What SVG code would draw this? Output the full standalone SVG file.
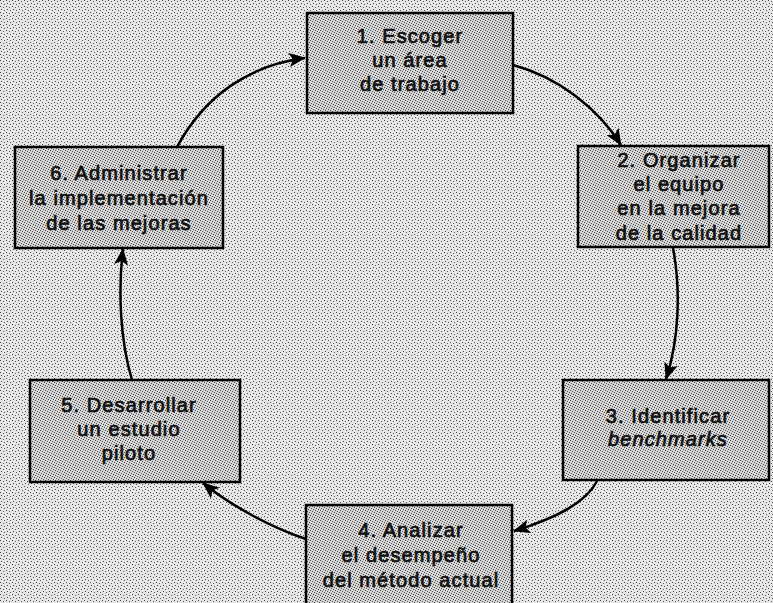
<svg xmlns="http://www.w3.org/2000/svg" width="773" height="603" viewBox="0 0 773 603">
  <defs>
    <pattern id="bgdots" width="6" height="6" patternUnits="userSpaceOnUse">
      <rect width="6" height="6" fill="#e6e6e6"/>
      <rect x="0" y="0" width="1" height="1" fill="#444"/>
      <rect x="3" y="1" width="1" height="1" fill="#555"/>
      <rect x="1" y="3" width="1" height="1" fill="#444"/>
      <rect x="4" y="4" width="1" height="1" fill="#555"/>
    </pattern>
    <pattern id="boxdots" width="5" height="5" patternUnits="userSpaceOnUse">
      <rect width="5" height="5" fill="#d6d6d6"/>
      <rect x="0" y="0" width="1" height="1" fill="#444"/>
      <rect x="2" y="1" width="1" height="1" fill="#555"/>
      <rect x="4" y="2" width="1" height="1" fill="#444"/>
      <rect x="1" y="3" width="1" height="1" fill="#555"/>
      <rect x="3" y="4" width="1" height="1" fill="#444"/>
    </pattern>
    <marker id="arrow" markerWidth="18" markerHeight="14" refX="16" refY="7" orient="auto" markerUnits="userSpaceOnUse">
      <path d="M0,0 L17,7 L0,14 L4,7 z" fill="#000"/>
    </marker>
  </defs>
  <style>
    .box { fill: url(#boxdots); stroke: #000; stroke-width: 2.5; }
    .lbl { font-family: "Liberation Sans", Arial, sans-serif; font-size: 20px; letter-spacing: 1.1px; fill: #111; stroke: #111; stroke-width: 0.7; text-anchor: middle; }
    .conn { fill: none; stroke: #000; stroke-width: 2.5; marker-end: url(#arrow); }
  </style>
  <rect width="773" height="603" fill="url(#bgdots)"/>

  <g id="node1">
    <rect class="box" x="307" y="13" width="206" height="100"/>
    <text class="lbl" x="410" y="43">1. Escoger</text>
    <text class="lbl" x="410" y="67">un área</text>
    <text class="lbl" x="410" y="91">de trabajo</text>
  </g>
  <g id="node2">
    <rect class="box" x="578" y="146" width="191" height="101"/>
    <text class="lbl" x="679" y="167">2. Organizar</text>
    <text class="lbl" x="679" y="191">el equipo</text>
    <text class="lbl" x="679" y="215">en la mejora</text>
    <text class="lbl" x="679" y="240">de la calidad</text>
  </g>
  <g id="node3">
    <rect class="box" x="563" y="380" width="206" height="100"/>
    <text class="lbl" x="668" y="423">3. Identificar</text>
    <text class="lbl" x="668" y="446" font-style="italic">benchmarks</text>
  </g>
  <g id="node4">
    <rect class="box" x="306" y="505" width="206" height="104"/>
    <text class="lbl" x="411" y="537">4. Analizar</text>
    <text class="lbl" x="411" y="562">el desempeño</text>
    <text class="lbl" x="411" y="587">del método actual</text>
  </g>
  <g id="node5">
    <rect class="box" x="30" y="380" width="210" height="102"/>
    <text class="lbl" x="129" y="412">5. Desarrollar</text>
    <text class="lbl" x="129" y="436">un estudio</text>
    <text class="lbl" x="129" y="460">piloto</text>
  </g>
  <g id="node6">
    <rect class="box" x="15" y="147" width="208" height="101"/>
    <text class="lbl" x="119" y="180">6. Administrar</text>
    <text class="lbl" x="119" y="205">la implementación</text>
    <text class="lbl" x="119" y="230">de las mejoras</text>
  </g>

  <g id="connectors">
    <path class="conn" d="M177,147 C205,95 250,65 305,58"/>
    <path class="conn" d="M513,65 C558,77 598,108 621,145"/>
    <path class="conn" d="M673,248 C681,290 679,340 666,379"/>
    <path class="conn" d="M597,481 C585,505 550,520 514,531"/>
    <path class="conn" d="M306,539 C270,527 230,505 203,483"/>
    <path class="conn" d="M132,380 C120,340 118,290 123,249"/>
  </g>
</svg>
